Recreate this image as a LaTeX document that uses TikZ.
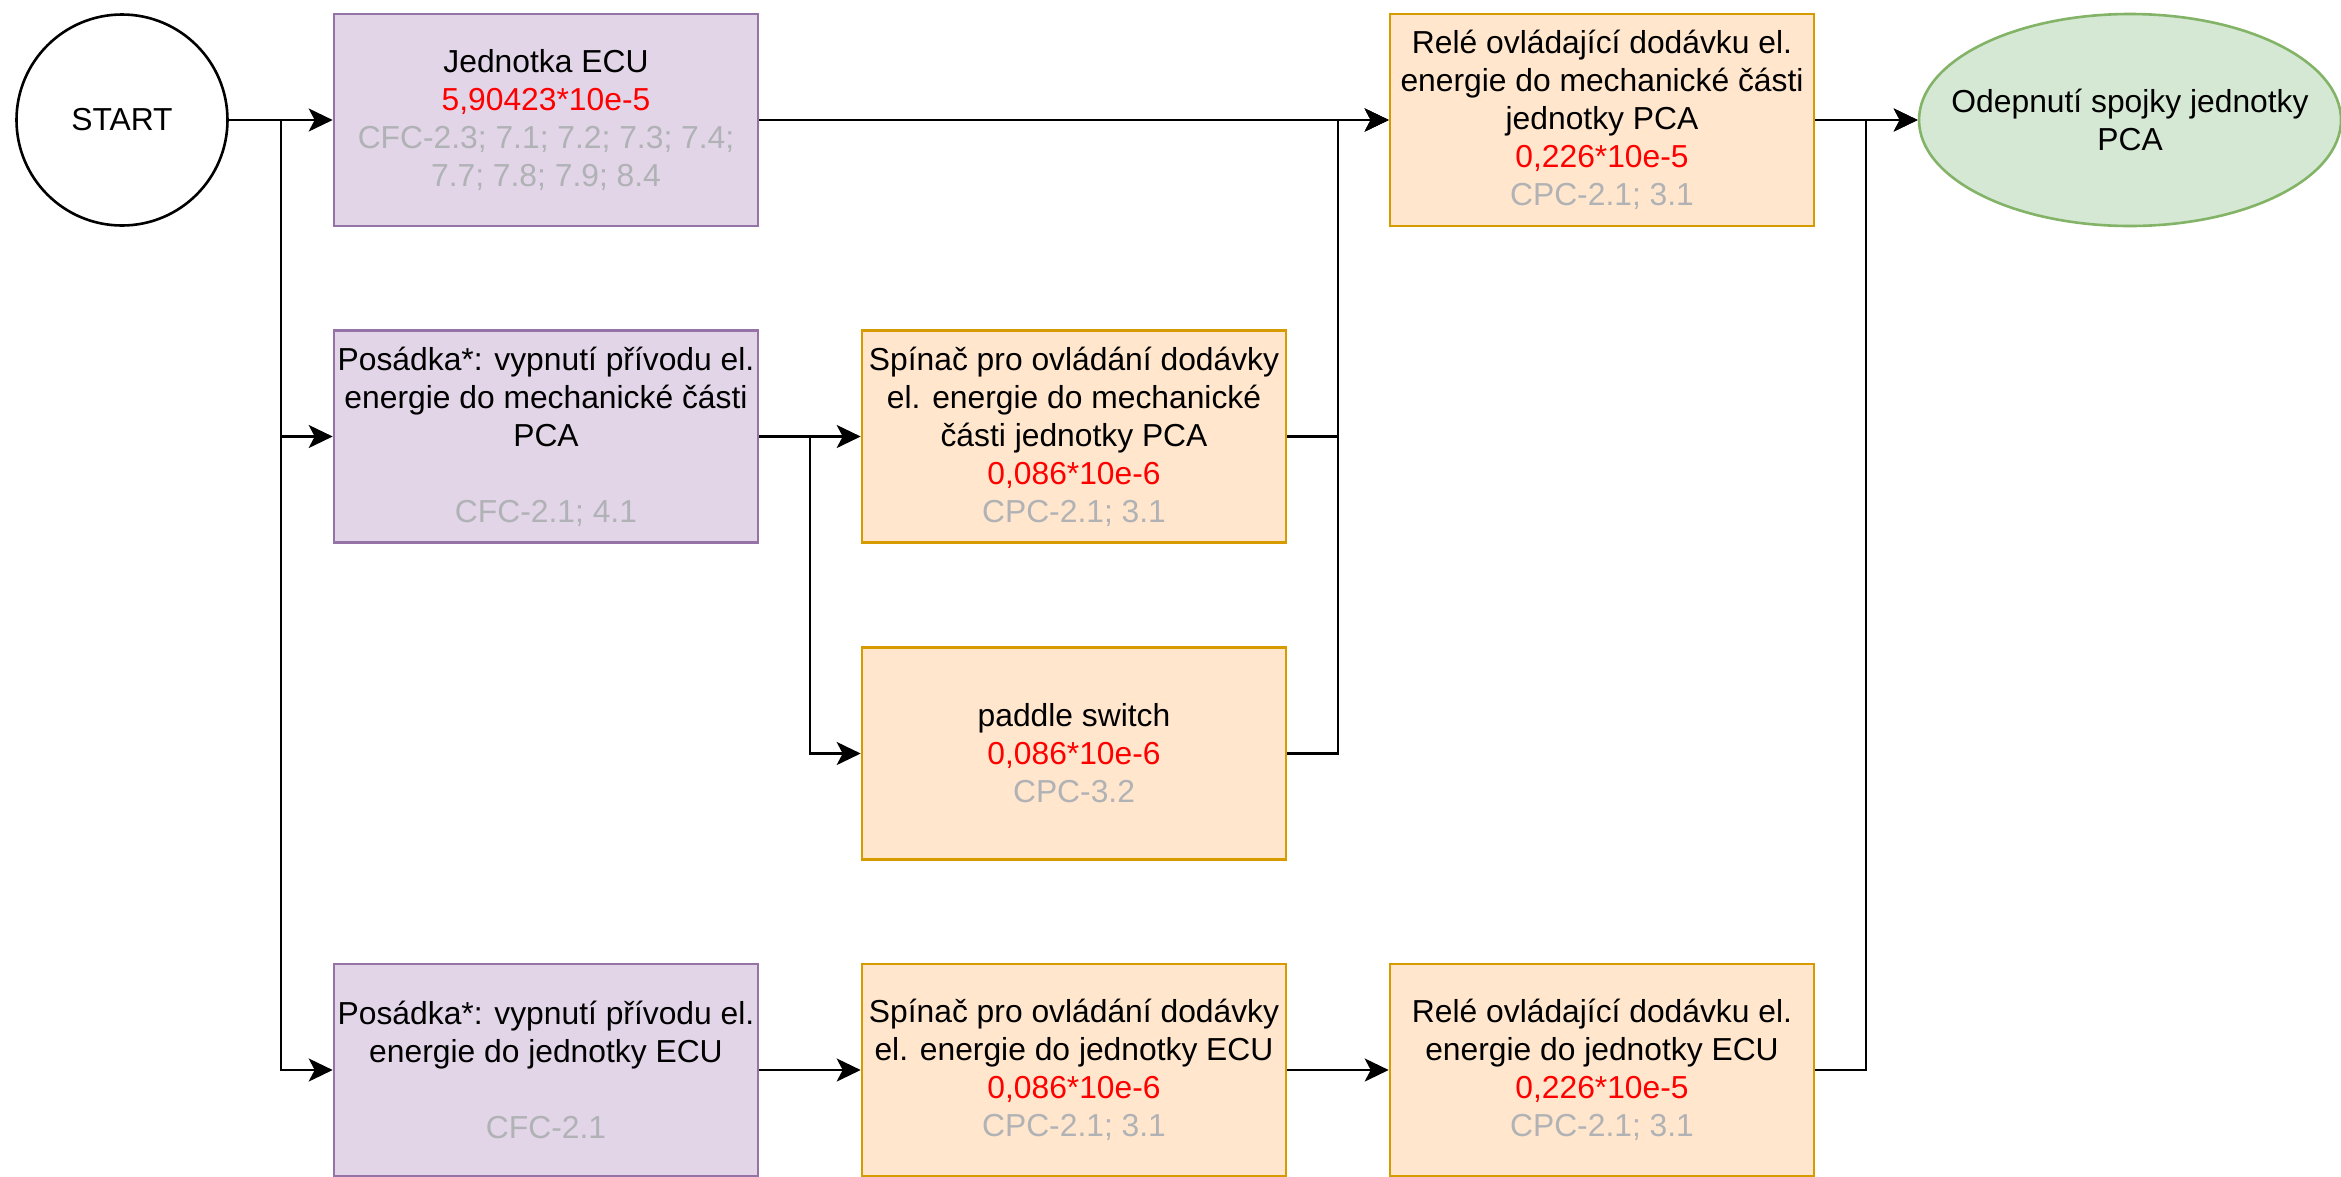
\documentclass[tikz,border=0pt]{standalone}
\usepackage{fontspec}
\setmainfont{Liberation Sans}
\usetikzlibrary{arrows.meta,shapes.geometric}
\definecolor{pfill}{HTML}{E1D5E7}
\definecolor{pdraw}{HTML}{9673A6}
\definecolor{ofill}{HTML}{FFE6CC}
\definecolor{odraw}{HTML}{D79B00}
\definecolor{gfill}{HTML}{D5E8D4}
\definecolor{gdraw}{HTML}{82B366}
\definecolor{redtext}{HTML}{FF0000}
\definecolor{greytext}{HTML}{B0B2B5}
\newcommand{\rv}[1]{\textcolor{redtext}{#1}}
\newcommand{\gv}[1]{\textcolor{greytext}{#1}}
\begin{document}
\begin{tikzpicture}[x=1pt,y=-1pt,
  every node/.style={font=\fontsize{31.8pt}{38pt}\selectfont, align=center, inner sep=0pt},
  box/.style={rectangle, minimum width=424pt, minimum height=212pt, line width=2.6pt},
  pbox/.style={box, fill=pfill, draw=pdraw},
  obox/.style={box, fill=ofill, draw=odraw},
  conn/.style={line width=2.6pt, black},
  arr/.style={conn, -{Stealth[length=24pt,width=23pt,inset=6pt]}}
]
\useasboundingbox (0,0) rectangle (2341,1176);

\node[circle, draw=black, line width=2.6pt, minimum size=211pt, fill=white] (start) at (122,120) {START};

\node[pbox] (ecu) at (546,120) {Jednotka ECU\\\rv{5,90423*10e-5}\\\gv{CFC-2.3; 7.1; 7.2; 7.3; 7.4;}\\\gv{7.7; 7.8; 7.9; 8.4}};
\node[pbox] (pos1) at (546,436.5) {Posádka*: vypnutí přívodu el.\\energie do mechanické části\\PCA\\\mbox{}\\\gv{CFC-2.1; 4.1}};
\node[pbox] (pos2) at (546,1070) {Posádka*: vypnutí přívodu el.\\energie do jednotky ECU\\\mbox{}\\\gv{CFC-2.1}};

\node[obox] (sp1) at (1074,436.5) {Spínač pro ovládání dodávky\\el. energie do mechanické\\části jednotky PCA\\\rv{0,086*10e-6}\\\gv{CPC-2.1; 3.1}};
\node[obox] (pad) at (1074,753.5) {paddle switch\\\rv{0,086*10e-6}\\\gv{CPC-3.2}};
\node[obox] (sp2) at (1074,1070) {Spínač pro ovládání dodávky\\el. energie do jednotky ECU\\\rv{0,086*10e-6}\\\gv{CPC-2.1; 3.1}};

\node[obox] (rel1) at (1602,120) {Relé ovládající dodávku el.\\energie do mechanické části\\jednotky PCA\\\rv{0,226*10e-5}\\\gv{CPC-2.1; 3.1}};
\node[obox] (rel2) at (1602,1070) {Relé ovládající dodávku el.\\energie do jednotky ECU\\\rv{0,226*10e-5}\\\gv{CPC-2.1; 3.1}};

\node[ellipse, fill=gfill, draw=gdraw, line width=2.6pt, minimum width=422pt, minimum height=212pt,
  label={[align=center]center:Odepnutí spojky jednotky\\PCA}] (end) at (2130,120) {};

\coordinate (j1) at (281,120);
\coordinate (j2) at (810,436.5);
\coordinate (j3) at (1338,120);
\coordinate (j4) at (1866,120);

% START branches
\draw[arr] (start.east) -- (ecu.west);
\draw[arr] (start.east) -- (j1) |- (pos1.west);
\draw[arr] (start.east) -- (j1) |- (pos2.west);
% ECU to relay
\draw[arr] (ecu.east) -- (rel1.west);
% crew 1 branches
\draw[arr] (pos1.east) -- (sp1.west);
\draw[arr] (pos1.east) -- (j2) |- (pad.west);
% switches to relay
\draw[arr] (sp1.east) -| (j3) -- (rel1.west);
\draw[arr] (pad.east) -| (j3) -- (rel1.west);
% bottom row
\draw[arr] (pos2.east) -- (sp2.west);
\draw[arr] (sp2.east) -- (rel2.west);
% to end
\draw[arr] (rel1.east) -- (end.west);
\draw[arr] (rel2.east) -| (j4) -- (end.west);
\end{tikzpicture}
\end{document}
